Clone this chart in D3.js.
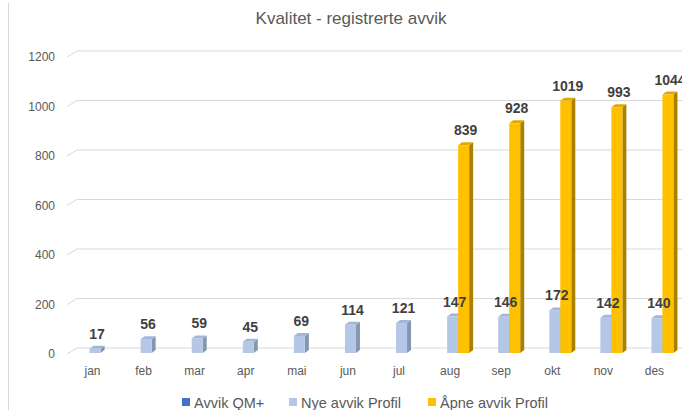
<!DOCTYPE html>
<html lang="no">
<head>
<meta charset="utf-8" />
<script src="https://d3js.org/d3.v7.min.js"></script>
<style>
  body { margin: 0; background: #fff; }
  svg { font-family: "Liberation Sans", Arial, sans-serif; display: block; }
  .tick-label { fill: #595959; font-size: 12px; }
  .val { fill: #404040; font-size: 14px; font-weight: bold; }
</style>
</head>
<body>
<svg id="chart" width="682" height="410"></svg>
<script>
// data
var months = ["jan", "feb", "mar", "apr", "mai", "jun", "jul", "aug", "sep", "okt", "nov", "des"];
var seriesNames = ["Avvik QM+", "Nye avvik Profil", "Åpne avvik Profil"];
var avvikQM = [null, null, null, null, null, null, null, null, null, null, null, null];
var nyeAvvik = [17, 56, 59, 45, 69, 114, 121, 147, 146, 172, 142, 140];
var apneAvvik = [null, null, null, null, null, null, null, 839, 928, 1019, 993, 1044];
var yTicks = [0, 200, 400, 600, 800, 1000, 1200];

var colors = {
  "Avvik QM+": { front: "#4472c4", side: "#2f5597", top: "#6a8fd4" },
  "Nye avvik Profil": { front: "#b4c7e7", side: "#8497b0", top: "#a3b6d8" },
  "Åpne avvik Profil": { front: "#ffc000", side: "#a98000", top: "#e0a800" }
};

var svg = d3.select("#chart");
var depthX = 4, depthY = -3;      // bar depth offset
var floorX = 10, floorY = -6;     // floor depth (grid slant)

var x0 = d3.scaleBand().domain(months).range([67, 680]);
var x1 = d3.scaleBand().domain(seriesNames)
    .range([x0.bandwidth() / 2 - 14, x0.bandwidth() / 2 + 19]);
var y = d3.scaleLinear().domain([0, 1200]).range([353, 353 - 1200 * 0.2475]);

// chart border on the left
svg.append("line")
    .attr("x1", 8.5).attr("x2", 8.5).attr("y1", 3).attr("y2", 410)
    .attr("stroke", "#d9d9d9");

// title
svg.append("text")
    .attr("x", 351).attr("y", 24)
    .attr("text-anchor", "middle")
    .attr("fill", "#595959")
    .style("font-size", "17px")
    .text("Kvalitet - registrerte avvik");

// gridlines with 3D slant
var grid = svg.append("g");
yTicks.forEach(function(t) {
  var yf = y(t) + 1;
  grid.append("path")
      .attr("d", "M67," + yf + "L" + (67 + floorX) + "," + (yf + floorY) + "L682," + (yf + floorY))
      .attr("fill", "none")
      .attr("stroke", "#d9d9d9")
      .attr("stroke-width", 1);
  grid.append("text")
      .attr("class", "tick-label")
      .attr("x", 55).attr("y", yf + 4)
      .attr("text-anchor", "end")
      .text(t);
});

// x labels
svg.append("g").selectAll("text")
    .data(months)
    .enter().append("text")
      .attr("class", "tick-label")
      .attr("x", function(d) { return x0(d) + x0.bandwidth() / 2; })
      .attr("y", 375)
      .attr("text-anchor", "middle")
      .text(function(d) { return d; });

// bars, left to right so that later bars cover earlier sides
var seriesData = [avvikQM, nyeAvvik, apneAvvik];
var bars = [];
months.forEach(function(m, i) {
  seriesNames.forEach(function(s, j) {
    var v = seriesData[j][i];
    if (v != null) bars.push({ month: m, series: s, value: v });
  });
});

var bw = x1.bandwidth();
var barG = svg.append("g").selectAll("g")
    .data(bars)
    .enter().append("g");

barG.append("path")  // side
    .attr("fill", function(d) { return colors[d.series].side; })
    .attr("d", function(d) {
      var xl = x0(d.month) + x1(d.series) + bw, yt = y(d.value), yb = y(0);
      return "M" + xl + "," + yb + "L" + xl + "," + yt + "L" + (xl + depthX) + "," + (yt + depthY) +
             "L" + (xl + depthX) + "," + (yb + depthY) + "Z";
    });

barG.append("path")  // top
    .attr("fill", function(d) { return colors[d.series].top; })
    .attr("d", function(d) {
      var xl = x0(d.month) + x1(d.series), yt = y(d.value);
      return "M" + xl + "," + yt + "L" + (xl + depthX) + "," + (yt + depthY) + "L" + (xl + bw + depthX) + "," + (yt + depthY) +
             "L" + (xl + bw) + "," + yt + "Z";
    });

barG.append("rect")  // front
    .attr("fill", function(d) { return colors[d.series].front; })
    .attr("x", function(d) { return x0(d.month) + x1(d.series); })
    .attr("y", function(d) { return y(d.value); })
    .attr("width", bw)
    .attr("height", function(d) { return y(0) - y(d.value); });

// value labels
svg.append("g").selectAll("text")
    .data(bars)
    .enter().append("text")
      .attr("class", "val")
      .attr("x", function(d) { return x0(d.month) + x1(d.series) + bw / 2 + 2; })
      .attr("y", function(d) { return y(d.value) - 10; })
      .attr("text-anchor", "middle")
      .text(function(d) { return d.value; });

// legend
var legendX = [182, 289, 428];
var legend = svg.append("g").selectAll("g")
    .data(seriesNames)
    .enter().append("g")
      .attr("transform", function(d, i) { return "translate(" + legendX[i] + ",403)"; });
legend.append("rect")
    .attr("x", 0).attr("y", -5)
    .attr("width", 8).attr("height", 8)
    .attr("fill", function(d) { return colors[d].front; });
legend.append("text")
    .attr("x", 12).attr("y", 5)
    .attr("fill", "#595959")
    .style("font-size", "14.5px")
    .text(function(d) { return d; });
</script>
</body>
</html>
